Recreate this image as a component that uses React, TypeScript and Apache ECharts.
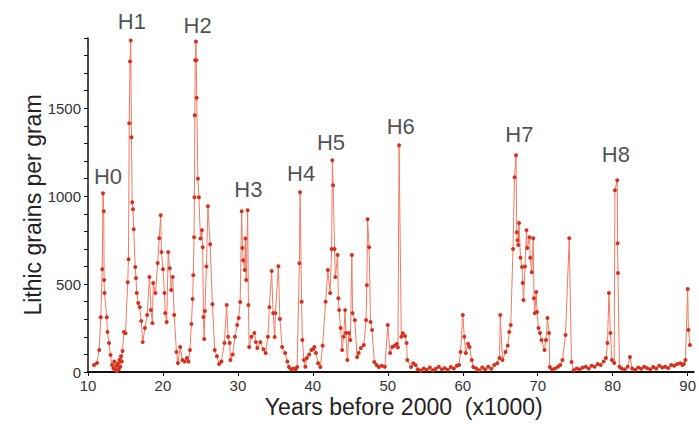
import React, { useEffect, useRef } from 'react';
import * as echarts from 'echarts';

// Years before 2000 (x1000)
const years = [
  10.8, 11.2, 11.5, 11.7, 11.9, 12.0, 12.1, 12.15, 12.2, 12.5, 12.6, 12.8, 13.0, 13.2, 13.4, 13.5, 13.7, 13.8, 13.9, 14.0,
  14.1, 14.2, 14.3, 14.4, 14.5, 14.6, 14.8, 15.0, 15.3, 15.4, 15.5, 15.6, 15.7, 15.8, 15.9, 16.0, 16.1, 16.3, 16.4, 16.5,
  16.7, 16.9, 17.1, 17.3, 17.6, 17.9, 18.2, 18.4, 18.6, 18.7, 19.0, 19.3, 19.5, 19.7, 19.8, 20.0, 20.2, 20.3, 20.5, 20.7,
  20.9, 21.1, 21.3, 21.5, 21.8, 22.0, 22.3, 22.6, 22.9, 23.2, 23.4, 23.6, 23.8, 23.95, 24.05, 24.15, 24.2, 24.25, 24.3, 24.4,
  24.45, 24.5, 24.66, 24.8, 25.0, 25.2, 25.3, 25.4, 25.5, 25.6, 25.8, 26.0, 26.3, 26.6, 26.9, 27.2, 27.5, 27.8, 28.2, 28.5,
  28.7, 28.9, 29.0, 29.3, 29.6, 29.9, 30.1, 30.3, 30.5, 30.6, 30.7, 30.9, 31.0, 31.1, 31.3, 31.4, 31.5, 31.8, 32.2, 32.4,
  32.6, 33.0, 33.4, 33.7, 34.0, 34.2, 34.5, 34.7, 34.9, 35.0, 35.4, 35.6, 35.9, 36.3, 36.6, 36.8, 37.1, 37.4, 37.7, 37.9,
  38.2, 38.3, 38.5, 38.6, 38.8, 39.0, 39.2, 39.5, 39.8, 40.0, 40.2, 40.4, 40.7, 41.0, 41.3, 41.7, 42.0, 42.3, 42.5, 42.6,
  42.7, 42.9, 43.0, 43.3, 43.4, 43.5, 43.7, 43.9, 44.1, 44.3, 44.4, 44.6, 44.8, 45.0, 45.2, 45.3, 45.6, 45.9, 46.1, 46.4,
  46.8, 47.1, 47.2, 47.3, 47.5, 47.7, 47.9, 48.2, 48.5, 48.8, 49.2, 49.6, 50.0, 50.3, 50.6, 50.9, 51.2, 51.35, 51.5, 51.8,
  52.0, 52.3, 52.5, 52.6, 53.1, 53.4, 53.7, 54.0, 54.4, 54.8, 55.2, 55.6, 56.0, 56.4, 56.8, 57.2, 57.6, 58.0, 58.4, 58.8,
  59.2, 59.5, 59.7, 60.0, 60.2, 60.4, 60.7, 60.9, 61.2, 61.4, 61.8, 62.2, 62.6, 63.0, 63.4, 63.8, 64.2, 64.6, 64.9, 65.0,
  65.3, 65.7, 66.0, 66.2, 66.4, 66.7, 66.9, 67.1, 67.2, 67.3, 67.4, 67.5, 67.7, 67.9, 68.0, 68.1, 68.3, 68.5, 68.6, 68.9,
  69.0, 69.2, 69.4, 69.5, 69.6, 69.8, 69.9, 70.1, 70.3, 70.5, 70.9, 71.1, 71.3, 71.5, 71.6, 71.9, 72.3, 72.7, 73.0, 73.3,
  73.7, 74.2, 74.5, 74.8, 75.2, 75.6, 76.0, 76.4, 76.8, 77.2, 77.6, 78.0, 78.4, 78.8, 79.1, 79.3, 79.5, 79.7, 79.9, 80.2,
  80.3, 80.6, 80.65, 80.7, 80.9, 81.2, 81.6, 82.0, 82.3, 82.6, 83.0, 83.4, 83.8, 84.2, 84.6, 85.0, 85.4, 85.8, 86.2, 86.6,
  87.0, 87.4, 87.8, 88.2, 88.6, 89.0, 89.3, 89.5, 89.7, 90.0, 90.1, 90.3,
];

// Lithic grains per gram
const lithic = [
  40, 51, 125, 312, 585, 1017, 915, 523, 449, 312, 227, 165, 97, 40, 20, 60, 10, 35, 5, 50,
  15, 70, 30, 90, 60, 120, 227, 220, 511, 642, 1415, 1767, 1886, 1335, 966, 926, 812, 597, 534, 449,
  392, 369, 290, 170, 250, 324, 540, 353, 278, 506, 449, 620, 761, 892, 682, 585, 449, 335, 284, 682,
  590, 466, 540, 324, 114, 51, 142, 68, 60, 80, 60, 125, 273, 415, 551, 767, 994, 1460, 1773, 1880,
  1773, 1560, 1100, 994, 760, 807, 710, 313, 188, 347, 600, 943, 727, 386, 125, 90, 45, 60, 165, 381,
  200, 165, 68, 100, 200, 267, 307, 398, 915, 705, 636, 580, 760, 523, 920, 381, 142, 200, 222, 170,
  136, 170, 130, 108, 200, 369, 574, 335, 199, 335, 602, 301, 142, 108, 60, 28, 15, 20, 15, 28,
  619, 1023, 400, 182, 68, 30, 80, 100, 125, 130, 142, 108, 50, 28, 150, 400, 580, 449, 700, 1205,
  1062, 700, 540, 665, 420, 352, 250, 125, 200, 352, 222, 68, 222, 182, 665, 335, 295, 85, 108, 136,
  153, 295, 494, 869, 710, 284, 239, 57, 40, 28, 35, 30, 267, 108, 142, 150, 160, 140, 1290, 200,
  220, 205, 165, 68, 28, 50, 40, 15, 8, 20, 12, 25, 10, 18, 30, 15, 22, 12, 28, 20,
  35, 40, 114, 324, 200, 108, 160, 142, 68, 28, 20, 10, 25, 15, 30, 18, 40, 50, 80, 324,
  68, 114, 150, 227, 267, 700, 1108, 1233, 795, 750, 722, 847, 650, 597, 506, 409, 600, 807, 705, 767,
  650, 568, 761, 420, 335, 455, 341, 250, 222, 182, 125, 182, 307, 222, 28, 15, 20, 30, 40, 68,
  210, 761, 57, 10, 20, 15, 25, 30, 20, 35, 30, 45, 40, 60, 80, 165, 449, 222, 68, 51,
  1034, 1091, 733, 563, 30, 20, 15, 30, 85, 20, 12, 25, 18, 30, 22, 15, 28, 20, 35, 25,
  30, 22, 40, 35, 45, 50, 40, 45, 68, 472, 239, 153,
];

// Heinrich event labels and their positions (data coordinates)
const eventNames = ['H0', 'H1', 'H2', 'H3', 'H4', 'H5', 'H6', 'H7', 'H8'];
const eventYears = [12.66, 15.85, 24.62, 31.4, 38.44, 42.42, 51.73, 67.54, 80.43];
const eventLevels = [1114, 1994, 1972, 1040, 1131, 1307, 1398, 1352, 1239];

const xTicks = [10, 20, 30, 40, 50, 60, 70, 80, 90];
const yTickLabels = [0, 500, 1000, 1500];

const FONT = "'Liberation Sans', Arial, Helvetica, sans-serif";

export default function App() {
  const ref = useRef<HTMLDivElement>(null);

  useEffect(() => {
    if (!ref.current) return;
    const chart = echarts.init(ref.current, undefined, { renderer: 'svg' });
    const lineData = years.map((y, i) => [y, lithic[i]]);
    const labelData = eventNames.map((n, i) => ({ name: n, value: [eventYears[i], eventLevels[i]] }));

    chart.setOption({
      animation: false,
      backgroundColor: '#ffffff',
      grid: { left: 88, right: 3, top: 38, bottom: 52, containLabel: false },
      xAxis: {
        type: 'value',
        min: 10,
        max: 90.8,
        interval: 10,
        name: 'Years before 2000  (x1000)',
        nameLocation: 'middle',
        nameGap: 23,
        nameMoveOverlap: false,
        nameTextStyle: { fontFamily: FONT, fontSize: 23, color: '#222', padding: [0, 0, 0, 26] },
        axisLine: { show: true, onZero: false, lineStyle: { color: '#111', width: 2 } },
        axisTick: { show: true, length: 4, lineStyle: { color: '#111', width: 1 } },
        axisLabel: {
          fontFamily: FONT,
          fontSize: 15,
          color: '#333',
          margin: 6,
          showMaxLabel: false,
          formatter: (v: number) => (xTicks.indexOf(v) >= 0 ? String(v) : ''),
        },
        splitLine: { show: false },
      },
      yAxis: {
        type: 'value',
        min: 0,
        max: 1900,
        interval: 100,
        name: 'Lithic grains per gram',
        nameLocation: 'middle',
        nameGap: 44,
        nameMoveOverlap: false,
        nameTextStyle: { fontFamily: FONT, fontSize: 23, color: '#222' },
        axisLine: { show: true, lineStyle: { color: '#111', width: 1.5 } },
        axisTick: { show: true, length: 4, lineStyle: { color: '#111', width: 1 } },
        axisLabel: {
          fontFamily: FONT,
          fontSize: 15,
          color: '#333',
          margin: 7,
          formatter: (v: number) => (yTickLabels.indexOf(v) >= 0 ? String(v) : ''),
        },
        splitLine: { show: false },
      },
      series: [
        {
          type: 'line',
          data: lineData,
          showAllSymbol: true,
          symbol: 'circle',
          symbolSize: 4,
          itemStyle: { color: '#d8301c' },
          lineStyle: { color: '#f07a62', width: 1 },
          z: 3,
        },
        {
          type: 'scatter',
          data: labelData,
          symbolSize: 1,
          clip: false,
          itemStyle: { color: 'rgba(0,0,0,0)' },
          label: {
            show: true,
            position: 'inside',
            formatter: '{b}',
            fontFamily: FONT,
            fontSize: 22,
            color: '#222',
          },
          z: 4,
        },
      ],
    });

    return () => chart.dispose();
  }, []);

  return (
    <div
      ref={ref}
      style={{ position: 'fixed', left: 0, top: 0, width: 699, height: 424, background: '#fff' }}
    />
  );
}
